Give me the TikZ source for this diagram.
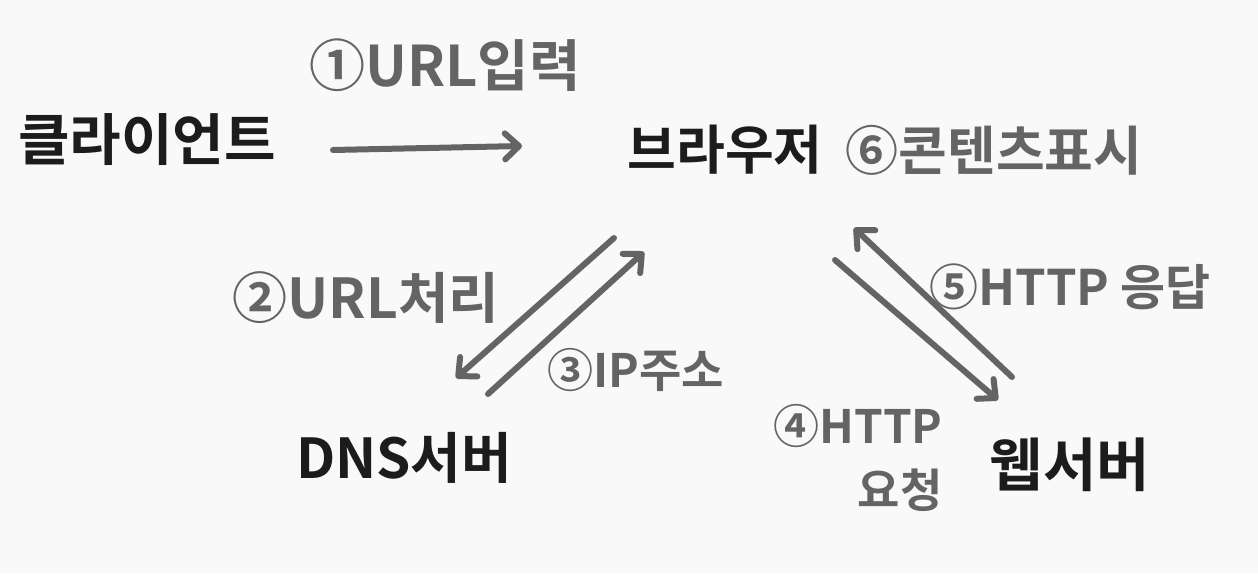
\documentclass[tikz,border=0pt]{standalone}
\usepackage{fontspec}
\setmainfont{Noto Sans CJK KR}[BoldFont={Noto Sans CJK KR Bold}]
\usetikzlibrary{arrows.meta}
\definecolor{bg}{HTML}{F9F9F9}
\definecolor{ink}{HTML}{1C1C1C}
\definecolor{pen}{HTML}{646464}
\newcommand{\fsz}[1]{\fontsize{#1}{1.2\dimexpr #1pt\relax}\selectfont}
\tikzset{
  main/.style={text=ink, font=\bfseries\fsz{54}, inner sep=0pt},
  lbl/.style={text=pen, font=\bfseries\fsz{50}, inner sep=0pt},
  arr/.style={draw=pen, line width=6pt, line cap=round, line join=round,
    -{Straight Barb[length=14pt, width=26pt, line width=6pt, round]}},
}
\begin{document}
\begin{tikzpicture}[x=1pt,y=-1pt]
\fill[bg] (0,0) rectangle (1258,573);
\useasboundingbox (0,0) rectangle (1258,573);
\node[main, font=\bfseries\fsz{56}] (client) at (147,140) {클라이언트};
\node[main, font=\bfseries\fsz{53}] (browser) at (725,150) {브라우저};
\node[main, font=\bfseries\fsz{55}] (dns) at (404,458) {DNS서버};
\node[main, font=\bfseries\fsz{58}] (web) at (1070,465) {웹서버};
\node[lbl, font=\bfseries\fsz{56}] (l1) at (445,65) {①URL입력};
\node[lbl, font=\bfseries\fsz{53}] (l6) at (994,150) {⑥콘텐츠표시};
\node[lbl, font=\bfseries\fsz{55}] (l2) at (366,298) {②URL처리};
\node[lbl, font=\bfseries\fsz{46}] (l3) at (636,370) {③IP주소};
\node[lbl, font=\bfseries\fsz{49}] (l5) at (1070,287) {⑤HTTP 응답};
\node[lbl, font=\bfseries\fontsize{46}{64}\selectfont, align=right] (l4) at (858,458) {④HTTP\\요청};
\coordinate (a1s) at (333,150);
\coordinate (a1e) at (522,146);
\coordinate (a2s) at (614,238);
\coordinate (a2e) at (456,378);
\coordinate (a3s) at (488,394);
\coordinate (a3e) at (644,252);
\coordinate (a4s) at (835,260);
\coordinate (a4e) at (998,400);
\coordinate (a5s) at (1012,377);
\coordinate (a5e) at (854,228);
\draw[arr] (a1s) -- (a1e);
\draw[arr] (a2s) -- (a2e);
\draw[arr] (a3s) -- (a3e);
\draw[arr] (a4s) -- (a4e);
\draw[arr] (a5s) -- (a5e);
\end{tikzpicture}
\end{document}
